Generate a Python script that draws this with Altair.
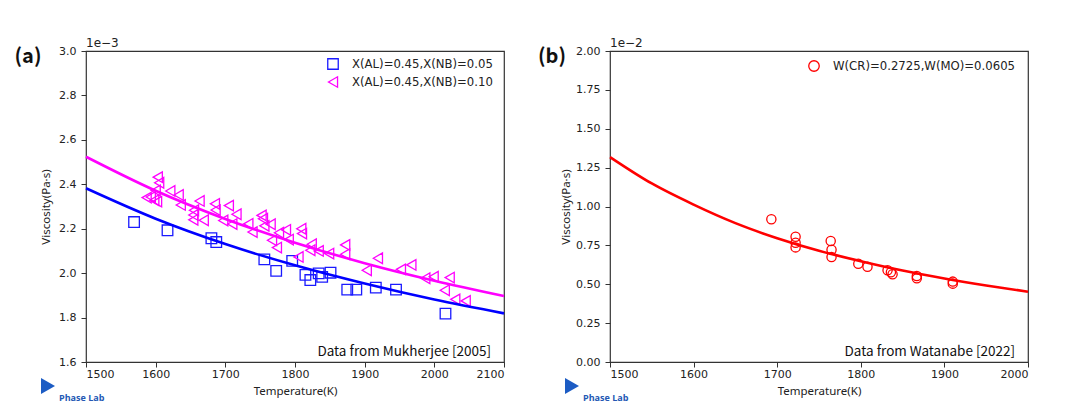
import altair as alt
import pandas as pd

# ---------------- Panel (a) data (viscosity in units of 1e-3 Pa·s) ----------------
a_sq_label = "X(AL)=0.45,X(NB)=0.05"
a_tri_label = "X(AL)=0.45,X(NB)=0.10"

a_sq_T = [1569, 1617, 1680, 1687, 1756, 1773, 1796, 1815, 1822, 1834, 1839, 1851,
          1875, 1888, 1916, 1945, 2016]
a_sq_V = [2.230, 2.193, 2.157, 2.140, 2.062, 2.010, 2.055, 1.992, 1.969, 1.999, 1.983,
          2.002, 1.926, 1.926, 1.935, 1.926, 1.818]

a_tri_T = [1587, 1593, 1598, 1602, 1600, 1603, 1605, 1621, 1633, 1636, 1655, 1654,
           1654, 1663, 1669, 1685, 1686, 1697, 1705, 1710, 1716, 1733, 1739, 1752,
           1754, 1756, 1765, 1767, 1774, 1777, 1787, 1791, 1805, 1809, 1810, 1824,
           1822, 1834, 1849, 1872, 1872, 1903, 1919, 1952, 1967, 1987, 1999, 2015,
           2022, 2030, 2045]
a_tri_V = [2.340, 2.343, 2.328, 2.322, 2.372, 2.432, 2.407, 2.370, 2.352, 2.307, 2.283,
           2.262, 2.240, 2.325, 2.238, 2.312, 2.284, 2.237, 2.304, 2.221, 2.265, 2.222,
           2.185, 2.260, 2.245, 2.213, 2.220, 2.148, 2.115, 2.182, 2.195, 2.151, 2.073,
           2.200, 2.178, 2.130, 2.103, 2.100, 2.088, 2.127, 2.085, 2.013, 2.067, 2.017,
           2.037, 1.977, 1.984, 1.923, 1.980, 1.882, 1.875]

a_fit_T = [1500, 1600, 1700, 1800, 1900, 2000, 2100]
a_fit_blue = [2.382, 2.245, 2.131, 2.035, 1.953, 1.881, 1.819]
a_fit_mag = [2.524, 2.371, 2.244, 2.137, 2.045, 1.966, 1.897]

a_xticks = [1500, 1600, 1700, 1800, 1900, 2000, 2100]
a_yticks = [1.6, 1.8, 2.0, 2.2, 2.4, 2.6, 2.8, 3.0]

# ---------------- Panel (b) data (viscosity in units of 1e-2 Pa·s) ----------------
b_label = "W(CR)=0.2725,W(MO)=0.0605"
b_T = [1693, 1722, 1722, 1722, 1764, 1765, 1765, 1797, 1808, 1832, 1836, 1838,
       1867, 1867, 1910, 1910]
b_V = [0.918, 0.806, 0.767, 0.737, 0.778, 0.722, 0.675, 0.632, 0.613, 0.590, 0.577,
       0.564, 0.553, 0.538, 0.517, 0.504]

b_fit_T = [1500, 1550, 1600, 1650, 1700, 1750, 1800, 1850, 1900, 1950, 2000]
b_fit_V = [1.318, 1.148, 1.012, 0.893, 0.796, 0.715, 0.648, 0.588, 0.537, 0.492, 0.452]

b_xticks = [1500, 1600, 1700, 1800, 1900, 2000]
b_yticks = [0.0, 0.25, 0.5, 0.75, 1.0, 1.25, 1.5, 1.75, 2.0]

W, H = 418, 311
TICK_FONT = "DejaVu Sans"
CJK_FONT = "Noto Sans CJK SC"
TITLE_FONT = "Noto Sans"
FRAME = "#333333"


def legend_cfg(lx, ly):
    return alt.Legend(title=None, orient="none", legendX=lx, legendY=ly,
                      labelFont=TICK_FONT, labelFontSize=11.7, labelColor="#222",
                      labelLimit=400, symbolStrokeWidth=1.3, symbolSize=110,
                      labelOffset=13, rowPadding=2, padding=0)


def make_panel(tag, offset_txt, source_txt, xdom, xticks, ydom, yticks, yfmt,
               pts_df, shapes, colors, fits, title_x, msize, lx, ly):
    x_enc = alt.X("T:Q", scale=alt.Scale(domain=xdom, nice=False, zero=False),
                  axis=alt.Axis(values=xticks, format="d", title="Temperature(K)",
                                grid=False, domain=False, tickSize=5, tickColor=FRAME,
                                labelFont=TICK_FONT, labelFontSize=11, labelColor="#222",
                                labelPadding=1.5, labelOverlap=False,
                                titleFont=TITLE_FONT, titleFontSize=11.5, titleFontWeight="normal",
                                titleColor="#222", titleY=29, titleBaseline="middle"))
    y_enc = alt.Y("V:Q", scale=alt.Scale(domain=ydom, nice=False, zero=False),
                  axis=alt.Axis(values=yticks, format=yfmt, title="Viscosity(Pa·s)",
                                grid=False, domain=False, tickSize=5, tickColor=FRAME,
                                labelFont=TICK_FONT, labelFontSize=11, labelColor="#222",
                                labelPadding=5, labelOverlap=False,
                                titleFont=TITLE_FONT, titleFontSize=11.5, titleFontWeight="normal",
                                titleColor="#222", titleX=title_x,
                                titleY=H / 2, titleBaseline="middle", titleAngle=-90,
                                titleAlign="center"))
    names = list(pts_df["series"].unique())
    points = alt.Chart(pts_df).mark_point(filled=False, strokeWidth=1.3, opacity=1,
                                          size=msize).encode(
        x=x_enc, y=y_enc,
        color=alt.Color("series:N", scale=alt.Scale(domain=names, range=colors),
                        legend=legend_cfg(lx, ly)),
        shape=alt.Shape("series:N", scale=alt.Scale(domain=names, range=shapes),
                        legend=legend_cfg(lx, ly)),
    )
    layers = [points]
    for fdf, col in fits:
        layers.append(alt.Chart(fdf).mark_line(color=col, strokeWidth=2.6,
                                               interpolate="monotone").encode(x=x_enc, y=y_enc))

    txt = pd.DataFrame({"t": [tag]})
    layers.append(alt.Chart(txt).mark_text(font=CJK_FONT, fontSize=20, fontWeight="bold",
                                            align="center", baseline="middle", color="#111").encode(
        x=alt.value(-58), y=alt.value(6), text="t:N"))
    off = pd.DataFrame({"t": [offset_txt]})
    layers.append(alt.Chart(off).mark_text(font=TICK_FONT, fontSize=12, align="left",
                                            baseline="alphabetic", color="#222").encode(
        x=alt.value(0), y=alt.value(-4), text="t:N"))
    src = pd.DataFrame({"t": [source_txt]})
    layers.append(alt.Chart(src).mark_text(font=CJK_FONT, fontSize=13.5, align="right",
                                            baseline="middle", color="#111").encode(
        x=alt.value(W - 13), y=alt.value(H - 10), text="t:N"))
    # Phase Lab logo (icon + wordmark)
    logo = pd.DataFrame({"t": ["Phase Lab"]})
    layers.append(alt.Chart(logo).mark_point(shape="triangle-right", filled=True,
                                             color="#1c5cc4", size=260, opacity=1).encode(
        x=alt.value(-38), y=alt.value(335)))
    layers.append(alt.Chart(logo).mark_text(font="Open Sans", fontSize=9, fontWeight="bold",
                                            align="left", baseline="middle", color="#2458b4").encode(
        x=alt.value(-27), y=alt.value(347), text="t:N"))
    return alt.layer(*layers).properties(width=W, height=H)


a_pts = pd.concat([
    pd.DataFrame({"T": a_sq_T, "V": a_sq_V, "series": a_sq_label}),
    pd.DataFrame({"T": a_tri_T, "V": a_tri_V, "series": a_tri_label}),
], ignore_index=True)
a_blue = pd.DataFrame({"T": a_fit_T, "V": a_fit_blue})
a_mag = pd.DataFrame({"T": a_fit_T, "V": a_fit_mag})

b_pts = pd.DataFrame({"T": b_T, "V": b_V, "series": b_label})
b_fit = pd.DataFrame({"T": b_fit_T, "V": b_fit_V})

left = make_panel("(a)", "1e\u22123", "Data from Mukherjee [2005]", [1500, 2100], a_xticks,
                  [1.6, 3.0], a_yticks, ".1f", a_pts, ["square", "triangle-left"],
                  ["#1a1aff", "#ff00ff"],
                  [(a_blue, "#0000ff"), (a_mag, "#ff00ff")], -40, 112, 241, 7)
right = make_panel("(b)", "1e\u22122", "Data from Watanabe [2022]", [1500, 2000], b_xticks,
                   [0.0, 2.0], b_yticks, ".2f", b_pts, ["circle"], ["#ff0000"],
                   [(b_fit, "#ff0000")], -44, 85, 198, 9)

chart = alt.hconcat(left, right, spacing=27).resolve_scale(
    color="independent", shape="independent"
).resolve_legend(color="independent", shape="independent").properties(
    padding={"left": 5, "top": 28, "right": 0, "bottom": 0},
    background="white",
).configure_view(stroke=FRAME, strokeWidth=1.2)

chart.save("out.html", embed_options={"renderer": "svg", "actions": False})
